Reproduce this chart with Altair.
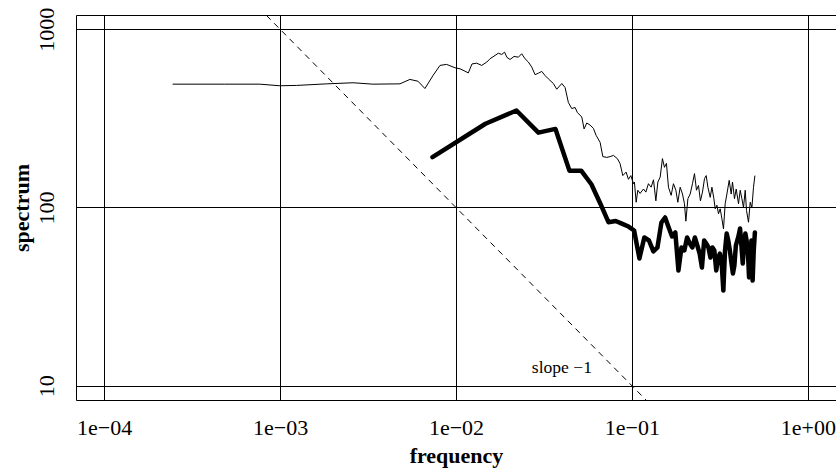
import altair as alt
import pandas as pd

# ---- data ----
thin_freq = [2.45e-4, 4.85e-4, 7.67e-4, 9.97e-4, 1.24e-3, 1.84e-3, 2.60e-3, 3.37e-3, 4.80e-3,
             5.47e-3, 6.08e-3, 6.66e-3, 7.40e-3, 8.11e-3, 8.85e-3, 9.87e-3, 0.01054, 0.01125,
             0.01175, 0.01233, 0.01311, 0.0140, 0.01495, 0.01561, 0.01667, 0.0174, 0.0182,
             0.01887, 0.0195, 0.02029, 0.02138, 0.02262, 0.02364, 0.02469, 0.02578, 0.02696,
             0.02815, 0.02939, 0.03072, 0.03208, 0.0335, 0.03577, 0.03739, 0.03993, 0.04169,
             0.04353, 0.04551, 0.04753, 0.04898, 0.05188, 0.05347, 0.05539, 0.05783, 0.06039,
             0.06257, 0.06594, 0.06832, 0.07198, 0.07516, 0.07848, 0.08269, 0.08567, 0.08875,
             0.09268, 0.09552, 0.09856, 0.1020, 0.1033, 0.1057, 0.1080, 0.1113, 0.1163, 0.1200,
             0.1241, 0.1286, 0.1326, 0.1368, 0.1404, 0.1447, 0.1491, 0.1531, 0.1571, 0.1613,
             0.1671, 0.1722, 0.1777, 0.1824, 0.1880, 0.1938, 0.1989, 0.2026, 0.2080, 0.2144,
             0.2209, 0.2268, 0.2328, 0.2390, 0.2452, 0.2518, 0.2585, 0.2643, 0.2703, 0.2786,
             0.2849, 0.2924, 0.2974, 0.3041, 0.3105, 0.3175, 0.3247, 0.3315, 0.3389, 0.3466,
             0.3572, 0.3667, 0.3730, 0.3828, 0.3915, 0.4035, 0.4126, 0.4218, 0.4308, 0.4405,
             0.4480, 0.4599, 0.4703, 0.4808, 0.4910, 0.5000]
thin_spec = [492, 492, 492, 482, 484, 494, 501, 492, 494,
             523, 511, 465, 550, 627, 635, 608, 600, 582,
             569, 639, 645, 627, 654, 683, 713, 734, 722,
             744, 695, 677, 704, 697, 729, 683, 655, 613,
             556, 567, 580, 550, 527, 496, 461, 496, 471,
             388, 359, 364, 341, 322, 276, 298, 290, 278,
             254, 232, 193, 191, 193, 196, 188, 176, 151,
             158, 144, 151, 136, 139, 107, 125, 120, 127, 122,
             136, 130, 143, 109, 139, 148, 188, 168, 177, 130,
             117, 136, 125, 107, 130, 119, 105, 83.8, 112, 119,
             136, 155, 125, 133, 109, 122, 145, 151, 130, 114,
             130, 112, 98.3, 103, 92.2, 98.3, 86.4, 75.9, 105, 119,
             142, 119, 139, 112, 127, 105, 125, 112, 100, 125,
             96.2, 82.7, 107, 100, 130, 151]

thick_freq = [0.007353, 0.01471, 0.02206, 0.02941, 0.03676, 0.04412, 0.05147, 0.05882,
              0.06618, 0.07353, 0.08088, 0.08824, 0.09559, 0.1029, 0.1103, 0.1176, 0.1250,
              0.1324, 0.1397, 0.1471, 0.1544, 0.1618, 0.1691, 0.1765, 0.1838, 0.1912, 0.1985,
              0.2059, 0.2132, 0.2206, 0.2279, 0.2353, 0.2426, 0.2500, 0.2574, 0.2647, 0.2721,
              0.2794, 0.2868, 0.2941, 0.3015, 0.3088, 0.3162, 0.3235, 0.3309, 0.3382, 0.3456,
              0.3529, 0.3603, 0.3676, 0.3750, 0.3824, 0.3897, 0.3971, 0.4044, 0.4118, 0.4191,
              0.4265, 0.4338, 0.4412, 0.4485, 0.4559, 0.4632, 0.4706, 0.4779, 0.4853, 0.4926,
              0.5000]
thick_spec = [191.5, 295, 350, 263, 276, 161, 161, 135,
              105, 82.7, 84.0, 81.0, 78.2, 74.3, 51.8, 67.9, 65.3,
              56.7, 59.7, 82.4, 87.9, 77.2, 68.8, 72.4, 44.3, 59.7, 57.4,
              67.9, 62.8, 59.7, 67.9, 61.2, 55.2, 46.1, 65.3, 62.8, 59.7,
              52.4, 59.7, 57.4, 44.3, 51.8, 55.2, 49.1, 34.2, 57.4, 71.5,
              65.3, 57.4, 49.1, 42.6, 47.3, 61.2, 65.3, 69.7, 76.2, 61.2,
              48.5, 61.2, 71.5, 65.3, 57.4, 40.5, 53.8, 65.3, 38.9, 57.4,
              72.4]

slope_freq = [1e-4, 1.0]
slope_spec = [1e4, 1.0]
slope_label = "slope \u22121"
slope_label_pos = (0.04, 12.5)

x_ticks = [1e-4, 1e-3, 1e-2, 1e-1, 1.0]
x_tick_labels = ["1e\u221204", "1e\u221203", "1e\u221202", "1e\u221201", "1e+00"]
y_ticks = [10, 100, 1000]
y_tick_labels = ["10", "100", "1000"]

# ---- chart ----
FONT = "Liberation Serif"
x_dom = [10 ** -4.16, 10 ** 0.16]
y_dom = [10 ** 0.92, 10 ** 3.08]

x_expr = ""
for i, (v, lab) in enumerate(zip(x_ticks, x_tick_labels)):
    if i < len(x_ticks) - 1:
        x_expr += f"datum.value < {v * 3} ? '{lab}' : "
    else:
        x_expr += f"'{lab}'"
y_expr = ""
for i, (v, lab) in enumerate(zip(y_ticks, y_tick_labels)):
    if i < len(y_ticks) - 1:
        y_expr += f"datum.value < {v * 3} ? '{lab}' : "
    else:
        y_expr += f"'{lab}'"

xscale = alt.Scale(type="log", domain=x_dom, nice=False)
yscale = alt.Scale(type="log", domain=y_dom, nice=False)

xaxis = alt.Axis(values=x_ticks, grid=True, gridColor="black", gridWidth=1, gridOpacity=1,
                 ticks=False, tickSize=0, domain=False, labelExpr=x_expr,
                 labelFont=FONT, labelFontSize=22, labelColor="black",
                 labelBaseline="alphabetic", labelPadding=34, labelFlush=False,
                 labelOverlap=False, title="frequency", titleFont=FONT, titleFontSize=22,
                 titleFontWeight="bold", titleColor="black", titleX=380, titleY=62,
                 titleAlign="center", titleBaseline="alphabetic")
yaxis = alt.Axis(values=y_ticks, grid=True, gridColor="black", gridWidth=1, gridOpacity=1,
                 ticks=False, tickSize=0, domain=False, labelExpr=y_expr,
                 labelFont=FONT, labelFontSize=22, labelColor="black", labelAngle=270,
                 labelAlign="center", labelBaseline="alphabetic", labelPadding=23,
                 labelFlush=False, labelOverlap=False, title="spectrum", titleFont=FONT,
                 titleFontSize=22, titleFontWeight="bold", titleColor="black", titleAngle=270,
                 titleX=-48, titleY=192.5, titleAlign="center", titleBaseline="alphabetic")

thin_df = pd.DataFrame({"f": thin_freq, "s": thin_spec})
thick_df = pd.DataFrame({"f": thick_freq, "s": thick_spec})
slope_df = pd.DataFrame({"f": slope_freq, "s": slope_spec})
label_df = pd.DataFrame({"f": [slope_label_pos[0]], "s": [slope_label_pos[1]], "t": [slope_label]})

base_x = alt.X("f:Q", scale=xscale, axis=xaxis)
base_y = alt.Y("s:Q", scale=yscale, axis=yaxis)

slope = alt.Chart(slope_df).mark_line(color="black", strokeWidth=1, strokeDash=[6, 5],
                                      clip=True).encode(x=base_x, y=base_y)
thin = alt.Chart(thin_df).mark_line(color="black", strokeWidth=1, clip=True,
                                    strokeJoin="round").encode(x=alt.X("f:Q", scale=xscale),
                                                               y=alt.Y("s:Q", scale=yscale))
thick = alt.Chart(thick_df).mark_line(color="black", strokeWidth=4.5, clip=True,
                                      strokeJoin="round", strokeCap="round").encode(
    x=alt.X("f:Q", scale=xscale), y=alt.Y("s:Q", scale=yscale))
label = alt.Chart(label_df).mark_text(font=FONT, fontSize=17.6, color="black",
                                      align="center", baseline="middle").encode(
    x=alt.X("f:Q", scale=xscale), y=alt.Y("s:Q", scale=yscale), text="t:N")

chart = alt.layer(slope, thin, thick, label).properties(
    width=760, height=385,
    autosize=alt.AutoSizeParams(type="none"),
    padding={"left": 76, "top": 15, "right": 0, "bottom": 68},
    background="white",
).configure_view(stroke="black", strokeWidth=1)

chart.save("out.html", embed_options={"renderer": "svg", "actions": False})
